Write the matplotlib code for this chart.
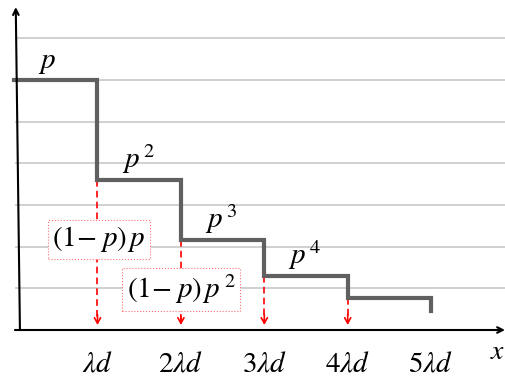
import matplotlib.pyplot as plt

plt.rcParams['mathtext.fontset'] = 'stix'
plt.rcParams['font.family'] = 'STIXGeneral'

# geometric staircase, p = 0.6
steps = [1, 2, 3, 4, 5]
levels = [0.6, 0.36, 0.216, 0.1296, 0.0778]
tail_end = 0.045
step_labels = [r'$p$', r'$p^{\,2}$', r'$p^{\,3}$', r'$p^{\,4}$']
tick_labels = [r'$\lambda d$', r'$2\lambda d$', r'$3\lambda d$', r'$4\lambda d$', r'$5\lambda d$']
grid_y = [0.1, 0.2, 0.3, 0.4, 0.5, 0.6, 0.7]
box_labels = [r'$(1{-}\;p)\,p$', r'$(1{-}\;p)\,p^{\,2}$']
box_pos = [(1.02, 0.218), (2.0, 0.097)]


def plot():
    fig = plt.figure(figsize=(5.05, 3.81), dpi=100)
    ax = fig.add_axes([0, 0, 1, 1])
    ax.set_xlim(-0.169, 5.886)
    ax.set_ylim(-0.1224, 0.792)
    ax.axis('off')

    ax.hlines(grid_y, 0.01, 5.886, color='#c8c8c8', lw=1.2, zorder=1)

    # staircase
    xs = [0]
    ys = [levels[0]]
    for i, s in enumerate(steps):
        xs.append(s)
        ys.append(levels[i])
        if i + 1 < len(levels):
            xs.append(s)
            ys.append(levels[i + 1])
    xs.append(steps[-1])
    ys.append(tail_end)
    ax.plot(xs, ys, color='#606060', lw=3, solid_joinstyle='miter', zorder=3)

    # dashed arrows down to the axis
    tip = 0.012
    for s, lv in zip(steps[:4], levels[1:]):
        ax.plot([s, s], [lv, tip + 0.01], color='red', lw=1.2, ls=(0, (4, 2.5)), zorder=2)
        ax.annotate('', xy=(s, tip), xytext=(s, tip + 0.025),
                    arrowprops=dict(arrowstyle='->,head_length=0.4,head_width=0.22',
                                    color='red', lw=1.2, shrinkA=0, shrinkB=0), zorder=2)

    for i, lab in enumerate(step_labels):
        ax.text(i + 0.29, levels[i] + 0.028, lab, fontsize=21, ha='left', va='baseline', zorder=4)

    for lab, (bx, by) in zip(box_labels, box_pos):
        ax.text(bx, by, lab, fontsize=21, ha='center', va='center', zorder=5,
                bbox=dict(boxstyle='square,pad=0.15', fc='white', ec='#ff7070', ls=':', lw=0.8))

    for s, lab in zip(steps, tick_labels):
        ax.text(s, -0.084, lab, fontsize=21, ha='center', va='center')

    # axes with arrow heads
    ax.annotate('', xy=(5.886, 0), xytext=(0.01, 0),
                arrowprops=dict(arrowstyle='->', color='black', lw=1.5, shrinkA=0, shrinkB=0))
    ax.annotate('', xy=(0.02, 0.775), xytext=(0.07, 0),
                arrowprops=dict(arrowstyle='->', color='black', lw=1.5, shrinkA=0, shrinkB=0))
    ax.text(5.8, -0.055, r'$x$', fontsize=20, ha='center', va='center')

    fig.savefig('out.png', dpi=100)


if __name__ == '__main__':
    plot()
